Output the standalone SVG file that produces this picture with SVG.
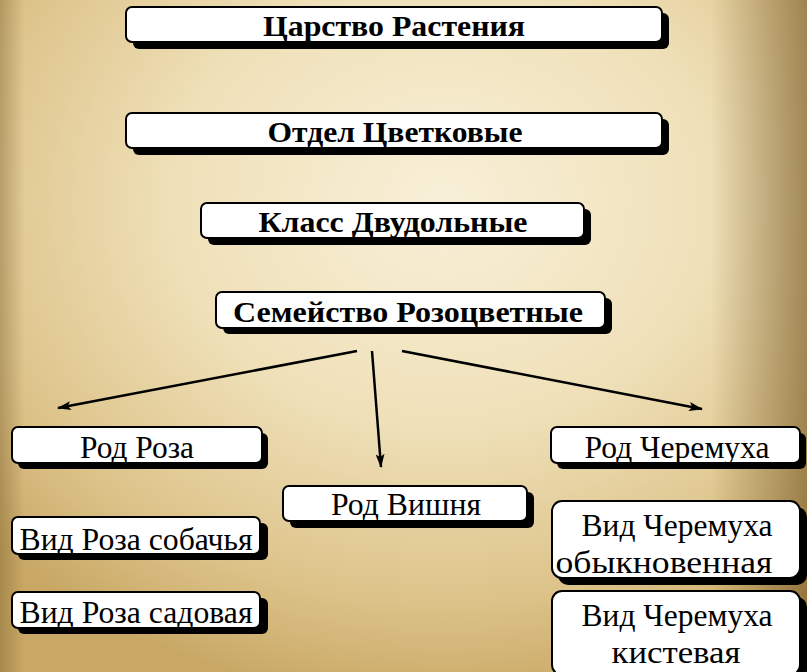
<svg xmlns="http://www.w3.org/2000/svg" width="807" height="672" viewBox="0 0 807 672">
<defs>
<radialGradient id="bg" cx="0.55" cy="0.3" r="0.75">
<stop offset="0" stop-color="#f8f0d8"/>
<stop offset="0.45" stop-color="#efe0b8"/>
<stop offset="0.8" stop-color="#dcc288"/>
<stop offset="1" stop-color="#c9a866"/>
</radialGradient>
<linearGradient id="edge" x1="0" y1="0" x2="1" y2="0">
<stop offset="0" stop-color="#6a5020" stop-opacity="0.35"/>
<stop offset="0.03" stop-color="#6a5020" stop-opacity="0"/>
<stop offset="0.88" stop-color="#6a5020" stop-opacity="0"/>
<stop offset="1" stop-color="#6a4c18" stop-opacity="0.55"/>
</linearGradient>
<marker id="ah" viewBox="0 0 14 9" refX="13" refY="4.5" markerWidth="14" markerHeight="9" markerUnits="userSpaceOnUse" orient="auto">
<path d="M0,0 L14,4.5 L0,9 L3,4.5 Z" fill="#000"/>
</marker>
</defs>
<style>
.sh{fill:#000}
.bx{fill:#fff;stroke:#000;stroke-width:2}
.b{font-family:"Liberation Serif","Times New Roman",serif;font-weight:bold;font-size:30px;fill:#000;text-anchor:middle}
.r{font-family:"Liberation Serif","Times New Roman",serif;font-size:32px;fill:#000;text-anchor:middle}
.ln{stroke:#000;stroke-width:2.5;fill:none;marker-end:url(#ah)}
</style>
<rect width="807" height="672" fill="url(#bg)"/>
<rect width="807" height="672" fill="url(#edge)"/>

<g id="n1"><rect class="sh" x="133" y="13" width="536" height="36" rx="6"/><rect class="bx" x="126" y="7" width="536" height="35" rx="6"/><text class="b" x="394" y="36" textLength="262" lengthAdjust="spacingAndGlyphs">Царство Растения</text></g>
<g id="n2"><rect class="sh" x="133" y="119" width="536" height="36" rx="6"/><rect class="bx" x="126" y="113" width="536" height="35" rx="6"/><text class="b" x="395" y="142" textLength="255" lengthAdjust="spacingAndGlyphs">Отдел Цветковые</text></g>
<g id="n3"><rect class="sh" x="208" y="209" width="383" height="36" rx="6"/><rect class="bx" x="201" y="203" width="383" height="35" rx="6"/><text class="b" x="393" y="232" textLength="269" lengthAdjust="spacingAndGlyphs">Класс Двудольные</text></g>
<g id="n4"><rect class="sh" x="223" y="298" width="389" height="36" rx="6"/><rect class="bx" x="216" y="292" width="389" height="36" rx="6"/><text class="b" x="408" y="322" textLength="350" lengthAdjust="spacingAndGlyphs">Семейство Розоцветные</text></g>

<g id="n5"><rect class="sh" x="18" y="433" width="250" height="36" rx="6"/><rect class="bx" x="12" y="427" width="250" height="36" rx="6"/><text class="r" x="137" y="458" textLength="114" lengthAdjust="spacingAndGlyphs">Род Роза</text></g>
<g id="n6"><rect class="sh" x="290" y="492" width="244" height="36" rx="6"/><rect class="bx" x="283" y="486" width="244" height="35" rx="6"/><text class="r" x="406" y="515" textLength="150" lengthAdjust="spacingAndGlyphs">Род Вишня</text></g>
<g id="n7"><rect class="sh" x="557" y="433" width="249" height="36" rx="6"/><rect class="bx" x="551" y="427" width="249" height="36" rx="6"/><text class="r" x="677" y="458" textLength="185" lengthAdjust="spacingAndGlyphs">Род Черемуха</text></g>

<g id="n8"><rect class="sh" x="18" y="523" width="250" height="37" rx="6"/><rect class="bx" x="12" y="517" width="248" height="37" rx="6"/><text class="r" x="136" y="550" textLength="233" lengthAdjust="spacingAndGlyphs">Вид Роза собачья</text></g>
<g id="n9"><rect class="sh" x="18" y="598" width="250" height="36" rx="6"/><rect class="bx" x="12" y="592" width="248" height="36" rx="6"/><text class="r" x="136" y="623" textLength="233" lengthAdjust="spacingAndGlyphs">Вид Роза садовая</text></g>

<g id="n10"><rect class="sh" x="558" y="507" width="249" height="78" rx="10"/><rect class="bx" x="552" y="501" width="248" height="77" rx="10"/><text class="r" x="677" y="536" textLength="191" lengthAdjust="spacingAndGlyphs">Вид Черемуха</text><text class="r" x="664" y="573" textLength="217" lengthAdjust="spacingAndGlyphs">обыкновенная</text></g>
<g id="n11"><rect class="sh" x="558" y="597" width="249" height="82" rx="10"/><rect class="bx" x="552" y="591" width="248" height="84" rx="10"/><text class="r" x="677" y="626" textLength="191" lengthAdjust="spacingAndGlyphs">Вид Черемуха</text><text class="r" x="676" y="663" textLength="129" lengthAdjust="spacingAndGlyphs">кистевая</text></g>

<g id="connectors">
<line class="ln" x1="357" y1="351" x2="58" y2="408"/>
<line class="ln" x1="372" y1="351" x2="381" y2="467"/>
<line class="ln" x1="402" y1="351" x2="702" y2="409"/>
</g>
</svg>
